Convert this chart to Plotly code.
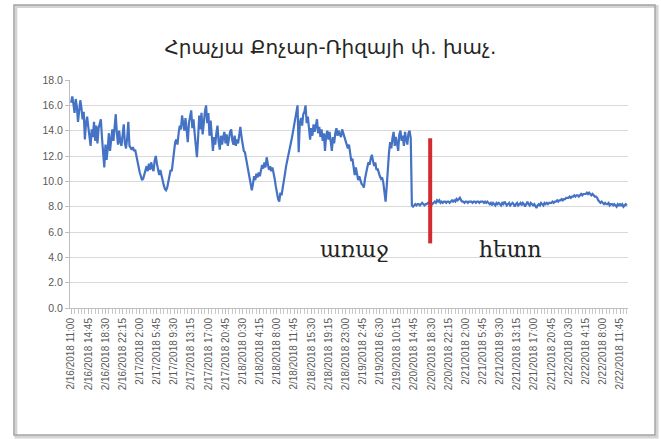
import plotly.graph_objects as go

title_text = "Հրաչյա Քոչար-Ռիզայի փ. խաչ."

tick_labels = [
    "2/16/2018 11:00", "2/16/2018 14:45", "2/16/2018 18:30", "2/16/2018 22:15",
    "2/17/2018 2:00", "2/17/2018 5:45", "2/17/2018 9:30", "2/17/2018 13:15",
    "2/17/2018 17:00", "2/17/2018 20:45", "2/18/2018 0:30", "2/18/2018 4:15",
    "2/18/2018 8:00", "2/18/2018 11:45", "2/18/2018 15:30", "2/18/2018 19:15",
    "2/18/2018 23:00", "2/19/2018 2:45", "2/19/2018 6:30", "2/19/2018 10:15",
    "2/20/2018 14:45", "2/20/2018 18:30", "2/20/2018 22:15", "2/21/2018 2:00",
    "2/21/2018 5:45", "2/21/2018 9:30", "2/21/2018 13:15", "2/21/2018 17:00",
    "2/21/2018 20:45", "2/22/2018 0:30", "2/22/2018 4:15", "2/22/2018 8:00",
    "2/22/2018 11:45",
]
readings_per_label = 15

readings = [
    16.2, 16.7, 16.1, 15.4, 16.5, 15.9, 14.7, 15.6, 16.4, 15.8, 14.9, 15.5, 13.3, 14.6, 15.1,
    14.3, 13.6, 12.8, 14.1, 13.5, 14.7, 13.2, 14.4, 13.0, 14.2, 14.6, 14.9, 13.4, 12.2, 11.1,
    12.9, 11.7, 12.6, 13.8, 12.4, 13.6, 14.1, 13.2, 14.4, 15.3, 13.8, 12.9, 14.0, 13.1, 12.8,
    13.5, 14.5, 13.0, 12.6, 13.4, 14.7, 12.8, 12.6, 12.5, 12.7, 12.4, 12.5, 12.0, 11.6, 11.1,
    10.7, 10.4, 10.1, 10.2, 10.6, 10.9, 11.2, 10.8, 11.4, 10.9, 11.5, 11.1, 10.8, 11.6, 12.0,
    11.4, 11.0, 10.5, 10.9, 10.4, 10.2, 9.7, 9.4, 9.3, 9.5, 9.9, 10.3, 10.9, 10.8, 11.6,
    12.4, 13.1, 13.3, 12.9, 13.8, 14.4, 14.1, 15.2, 14.6, 14.0, 15.0, 13.9, 13.1, 14.6, 15.3,
    15.6, 14.2, 14.9, 13.8, 13.0, 11.9, 13.4, 15.2, 14.1, 15.4, 13.7, 14.9, 15.5, 16.0, 14.6,
    15.4, 13.6, 14.8, 13.2, 12.4, 13.5, 12.9, 13.8, 14.4, 13.1, 12.5, 13.6, 12.9, 13.5, 13.9,
    13.0, 13.7, 12.8, 13.4, 13.9, 14.1, 13.2, 12.9, 13.6, 12.8, 13.3, 13.0, 13.7, 14.3, 13.5,
    12.8, 12.4, 12.3, 11.8, 11.2, 10.6, 10.0, 9.6, 9.3, 9.8, 10.4, 10.1, 10.6, 10.3, 10.7,
    10.4, 10.9, 11.3, 11.0, 11.5, 11.1, 11.9, 11.4, 10.9, 11.2, 10.8, 11.1, 10.7, 10.2, 9.6,
    9.0, 8.6, 8.4, 9.1, 8.9, 9.6, 10.1, 10.6, 11.2, 11.6, 12.1, 12.5, 12.8, 13.4, 13.9,
    14.4, 14.9, 15.5, 16.0, 12.3, 14.6, 15.0, 14.4, 15.3, 15.5, 16.0, 14.6, 15.1, 14.0, 13.3,
    14.2, 13.6, 14.5, 13.9, 14.4, 14.9, 13.8, 14.3, 13.5, 14.1, 13.2, 13.8, 12.4, 13.6, 14.0,
    13.3, 13.9, 13.1, 12.4, 13.5, 13.0, 13.8, 14.2, 13.6, 14.0, 13.7, 13.5, 14.1, 13.8, 13.6,
    13.4, 13.1, 12.6, 12.9, 12.2, 11.6, 11.8, 11.0, 10.5, 11.1, 10.6, 10.1, 10.4, 10.0, 9.8,
    9.7, 9.5, 10.2, 10.8, 11.1, 11.5, 11.3, 11.8, 12.1, 11.6, 11.2, 11.5, 10.9, 11.0, 10.6,
    10.4, 10.2, 10.3, 9.9, 9.2, 8.4, 9.6, 11.2, 12.3, 13.1, 12.6, 13.4, 13.9, 12.8, 13.5,
    13.0, 12.4, 13.7, 14.0, 13.2, 13.6, 12.8, 13.9, 13.3, 12.9, 13.8, 14.0, 13.4, 8.1, 8.0,
    8.1, 8.2, 8.1, 8.2, 8.2, 8.1, 8.2, 8.3, 8.2, 8.1, 8.2, 8.2, 8.3, 8.3, 8.2,
    8.3, 8.2, 8.3, 8.4, 8.3, 8.5, 8.4, 8.5, 8.3, 8.4, 8.3, 8.4, 8.4, 8.3, 8.4,
    8.4, 8.3, 8.4, 8.5, 8.4, 8.5, 8.4, 8.6, 8.5, 8.6, 8.7, 8.5, 8.4, 8.4, 8.3,
    8.4, 8.4, 8.3, 8.4, 8.4, 8.4, 8.3, 8.4, 8.4, 8.3, 8.4, 8.4, 8.3, 8.4, 8.4,
    8.4, 8.3, 8.4, 8.3, 8.4, 8.3, 8.2, 8.3, 8.1, 8.3, 8.2, 8.1, 8.3, 8.2, 8.3,
    8.2, 8.1, 8.3, 8.2, 8.4, 8.2, 8.1, 8.2, 8.3, 8.1, 8.2, 8.3, 8.2, 8.0, 8.2,
    8.3, 8.1, 8.2, 8.3, 8.1, 8.3, 8.2, 8.0, 8.2, 8.4, 8.2, 8.1, 8.3, 8.2, 8.1,
    8.2, 8.0, 7.9, 8.1, 8.2, 8.1, 8.3, 8.2, 8.1, 8.3, 8.2, 8.3, 8.2, 8.3, 8.3,
    8.3, 8.4, 8.3, 8.4, 8.4, 8.5, 8.4, 8.5, 8.5, 8.6, 8.5, 8.6, 8.6, 8.7, 8.7,
    8.7, 8.8, 8.7, 8.8, 8.8, 8.9, 8.8, 8.9, 8.9, 8.8, 8.9, 9.0, 8.9, 9.0, 9.0,
    9.0, 9.1, 9.0, 9.1, 9.0, 8.9, 9.0, 8.9, 8.8, 8.8, 8.7, 8.5, 8.4, 8.3, 8.4,
    8.3, 8.2, 8.3, 8.2, 8.2, 8.3, 8.1, 8.2, 8.2, 8.1, 8.2, 8.1, 8.0, 8.2, 8.1,
    8.2, 8.1, 8.2, 8.0, 8.1, 8.2, 8.1,
]

# vertical red marker separating "before" and "after"
event_index = 314
event_span = (5.1, 13.4)
before_label = "առաջ"
after_label = "հետո"
label_positions = [(248, 4.6), (384, 4.6)]

x_idx = list(range(len(readings)))
tickvals = [i * readings_per_label for i in range(len(tick_labels))]

fig = go.Figure()
fig.add_trace(go.Scatter(
    x=x_idx, y=readings, mode="lines",
    line=dict(color="#4472C4", width=2.2),
    hoverinfo="y",
))

fig.add_shape(type="line", xref="x", yref="y",
              x0=event_index, x1=event_index, y0=event_span[0], y1=event_span[1],
              line=dict(color="#D42A30", width=4))

for txt, (xi, yv) in zip([before_label, after_label], label_positions):
    fig.add_annotation(x=xi, y=yv, xref="x", yref="y", text=txt, showarrow=False,
                       font=dict(family="DejaVu Serif", size=22, color="#222222"))

# chart frame (with soft shadow)
fig.add_shape(type="rect", xref="paper", yref="paper",
              x0=-0.097, x1=1.052, y0=-0.566, y1=1.322,
              line=dict(color="#d4d4d4", width=3), layer="below")
fig.add_shape(type="rect", xref="paper", yref="paper",
              x0=-0.1004, x1=1.0484, y0=-0.557, y1=1.329,
              line=dict(color="#a3a3a3", width=1.5), layer="below")

fig.update_layout(
    width=661, height=439,
    margin=dict(l=70, r=33, t=80, b=131),
    paper_bgcolor="white", plot_bgcolor="white",
    showlegend=False,
    title=dict(text=title_text, x=0.5, xanchor="center", y=0.893, yanchor="middle",
               font=dict(family="DejaVu Sans", size=20, color="#262626")),
)
fig.update_yaxes(
    range=[0, 18], dtick=2, tickformat=".1f",
    showgrid=True, gridcolor="#d9d9d9", gridwidth=1,
    showline=True, linecolor="#bfbfbf", linewidth=1,
    ticks="outside", ticklen=4, tickcolor="#bfbfbf",
    zeroline=False,
    tickfont=dict(family="Liberation Sans", size=10.5, color="#595959"),
)
fig.update_xaxes(
    range=[-1, len(readings)],
    tickmode="array", tickvals=tickvals, ticktext=tick_labels, tickangle=-90,
    showgrid=False, zeroline=False,
    showline=True, linecolor="#bfbfbf", linewidth=1,
    ticks="outside", ticklen=5, tickcolor="#bfbfbf",
    minor=dict(dtick=3, tick0=0, ticks="outside", ticklen=5, tickcolor="#c8c8c8", showgrid=False),
    tickfont=dict(family="Liberation Sans", size=10, color="#595959"),
)

fig.write_html("out.html", config={"displayModeBar": False},
               post_script="document.body.style.margin='0px';")
